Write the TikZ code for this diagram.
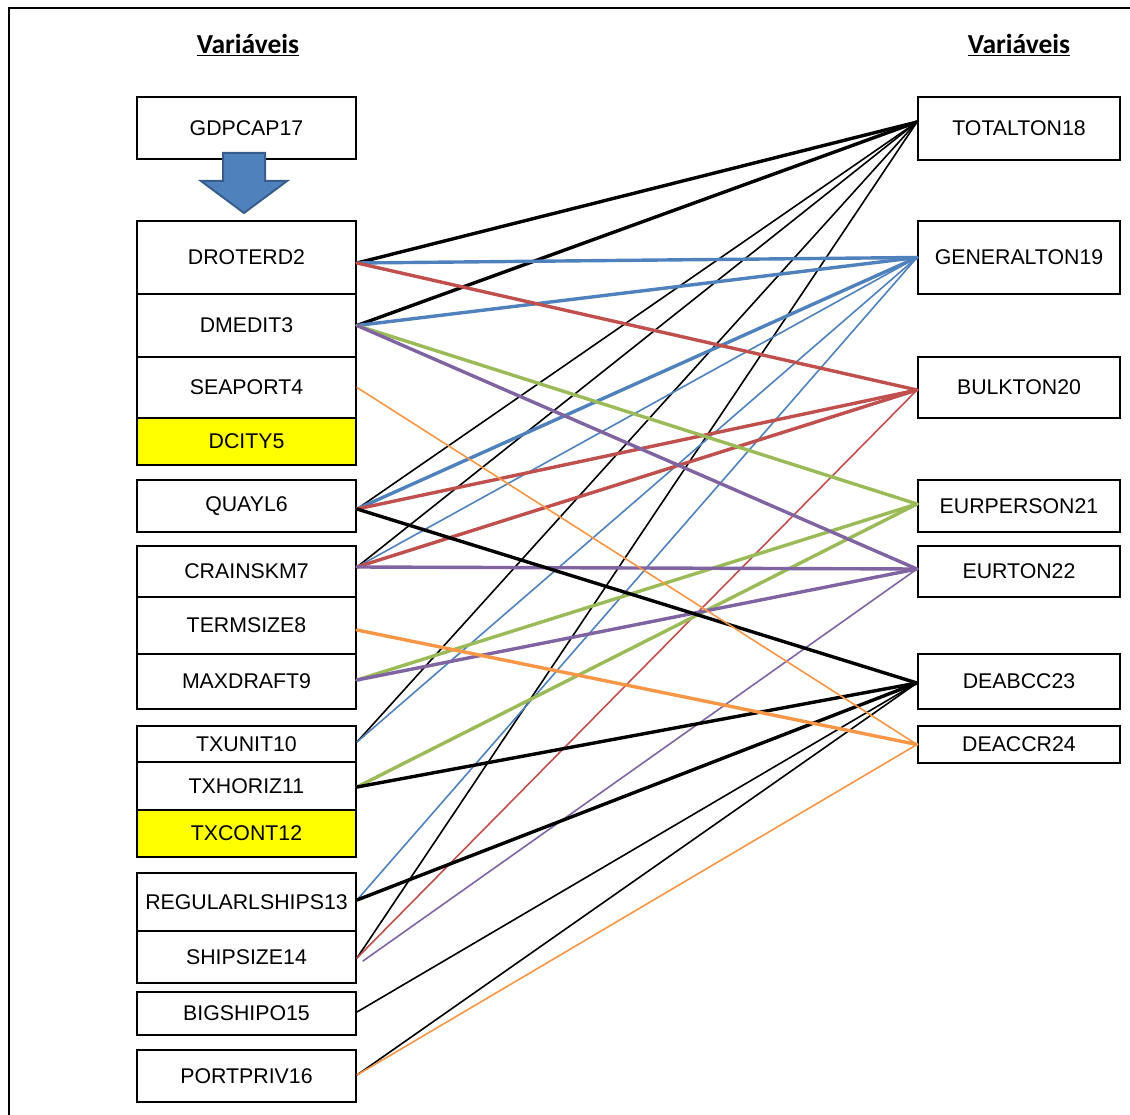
\documentclass[tikz,border=0pt]{standalone}
\usepackage{fontspec}
\setmainfont{Liberation Sans}
\newfontfamily\headfont{Carlito}
\definecolor{lblue}{HTML}{4F81BD}
\definecolor{lblueedge}{HTML}{385D8A}
\definecolor{lred}{HTML}{C0504D}
\definecolor{lgreen}{HTML}{9BBB59}
\definecolor{lpurple}{HTML}{8064A2}
\definecolor{lorange}{HTML}{F79646}
\definecolor{hiyellow}{HTML}{FFFF00}
\begin{document}
\begin{tikzpicture}[x=1pt,y=-1pt,
  lbox/.style={draw, line width=2pt, inner sep=0pt, minimum width=219pt,
    font=\fontsize{21.3}{24}\selectfont},
  rbox/.style={draw, line width=2pt, inner sep=0pt, minimum width=202pt,
    font=\fontsize{21.3}{24}\selectfont},
  hl/.style={fill=hiyellow},
  head/.style={font=\headfont\bfseries\fontsize{27.5}{31}\selectfont},
  thk/.style={line width=3.4pt, line cap=round},
  thn/.style={line width=1.6pt, line cap=round}]
\useasboundingbox (0,0) rectangle (1130,1115);

% outer frame
\draw[line width=2.8pt] (9,1130) -- (9,8) -- (1140,8);

% column headings
\node[head] (hleft) at (248,45) {\underline{Variáveis}};
\node[head] (hright) at (1019,45) {\underline{Variáveis}};

% left column
\node[lbox, minimum height=62pt] (gdpcap) at (246.5,128) {GDPCAP17};
\node[lbox, minimum height=73pt] (droterd) at (246.5,257.5) {DROTERD2};
\node[lbox, minimum height=63pt] (dmedit) at (246.5,325.5) {DMEDIT3};
\node[lbox, minimum height=61pt] (seaport) at (246.5,387.5) {SEAPORT4};
\node[lbox, hl, minimum height=47pt] (dcity) at (246.5,441.5) {DCITY5};
\node[lbox, minimum height=52pt] (quayl) at (246.5,506) {QUAYL6};
\node[lbox, minimum height=51pt] (crainskm) at (246.5,571.5) {CRAINSKM7};
\node[lbox, minimum height=57pt] (termsize) at (246.5,625.5) {TERMSIZE8};
\node[lbox, minimum height=55pt] (maxdraft) at (246.5,681.5) {MAXDRAFT9};
\node[lbox, minimum height=36pt] (txunit) at (246.5,744) {TXUNIT10};
\node[lbox, minimum height=48pt] (txhoriz) at (246.5,786) {TXHORIZ11};
\node[lbox, hl, minimum height=47pt] (txcont) at (246.5,833.5) {TXCONT12};
\node[lbox, minimum height=58pt] (regular) at (246.5,902) {REGULARLSHIPS13};
\node[lbox, minimum height=52pt] (shipsize) at (246.5,957) {SHIPSIZE14};
\node[lbox, minimum height=43pt] (bigship) at (246.5,1013.5) {BIGSHIPO15};
\node[lbox, minimum height=52pt] (portpriv) at (246.5,1076) {PORTPRIV16};

% block arrow below GDPCAP17
\filldraw[fill=lblue, draw=lblueedge, line width=2pt, line join=miter]
  (223,153) -- (265,153) -- (265,181) -- (287,181) -- (244,213)
  -- (201,181) -- (223,181) -- cycle;

% right column
\node[rbox, minimum height=63pt] (totalton) at (1019,128.5) {TOTALTON18};
\node[rbox, minimum height=73pt] (generalton) at (1019,257.5) {GENERALTON19};
\node[rbox, minimum height=61pt] (bulkton) at (1019,387.5) {BULKTON20};
\node[rbox, minimum height=52pt] (eurperson) at (1019,506) {EURPERSON21};
\node[rbox, minimum height=51pt] (eurton) at (1019,571.5) {EURTON22};
\node[rbox, minimum height=55pt] (deabcc) at (1019,681.5) {DEABCC23};
\node[rbox, minimum height=37pt] (deaccr) at (1019,744.5) {DEACCR24};

% connector end points
\coordinate (a2) at ([yshift=-5.5pt]droterd.east);
\coordinate (a3) at (dmedit.east);
\coordinate (a4) at (seaport.east);
\coordinate (a6) at ([yshift=-3pt]quayl.east);
\coordinate (a7) at ([yshift=4.5pt]crainskm.east);
\coordinate (a8) at ([yshift=-4.5pt]termsize.east);
\coordinate (a9) at ([yshift=1.5pt]maxdraft.east);
\coordinate (a10) at ([yshift=2pt]txunit.east);
\coordinate (a11) at ([yshift=-1pt]txhoriz.east);
\coordinate (a13) at ([yshift=2pt]regular.east);
\coordinate (a14) at ([yshift=-1pt]shipsize.east);
\coordinate (a15) at ([yshift=1.5pt]bigship.east);
\coordinate (a16) at ([yshift=1pt]portpriv.east);
\coordinate (b18) at ([yshift=6.5pt]totalton.west);
\coordinate (b19) at (generalton.west);
\coordinate (b20) at ([yshift=-2.5pt]bulkton.west);
\coordinate (b21) at ([yshift=2pt]eurperson.west);
\coordinate (b22) at ([yshift=2.5pt]eurton.west);
\coordinate (b23) at ([yshift=-1.5pt]deabcc.west);
\coordinate (b24) at (deaccr.west);

% TOTALTON18
\draw[thk] (a2) -- (b18);
\draw[thk] (a3) -- (b18);
\draw[thn] (a6) -- (b18);
\draw[thn] (a7) -- (b18);
\draw[thn] (a10) -- (b18);
\draw[thn] (a14) -- (b18);

% GENERALTON19
\draw[thk, lblue] (a2) -- (b19);
\draw[thk, lblue] (a3) -- (b19);
\draw[thk, lblue] (a6) -- (b19);
\draw[thn, lblue] (a7) -- (b19);
\draw[thn, lblue] (a10) -- (b19);
\draw[thn, lblue] (a13) -- (b19);

% BULKTON20
\draw[thk, lred] (a2) -- (b20);
\draw[thk, lred] (a6) -- (b20);
\draw[thk, lred] (a7) -- (b20);
\draw[thn, lred] (a14) -- (b20);

% EURPERSON21
\draw[thk, lgreen] (a3) -- (b21);
\draw[thk, lgreen] (a9) -- (b21);
\draw[thk, lgreen] (a11) -- (b21);

% EURTON22
\draw[thk, lpurple] (a3) -- (b22);
\draw[thk, lpurple] (a7) -- (b22);
\draw[thk, lpurple] (a9) -- (b22);
\draw[thn, lpurple] ([xshift=6pt,yshift=-3pt]a14) -- (b22);

% DEABCC23
\draw[thk] (a6) -- (b23);
\draw[thk] (a11) -- (b23);
\draw[thk] (a13) -- (b23);
\draw[thn] (a15) -- (b23);
\draw[thn] (a16) -- (b23);

% DEACCR24
\draw[thn, lorange] (a4) -- (b24);
\draw[thk, lorange] (a8) -- (b24);
\draw[thn, lorange] (a16) -- (b24);
\end{tikzpicture}
\end{document}
